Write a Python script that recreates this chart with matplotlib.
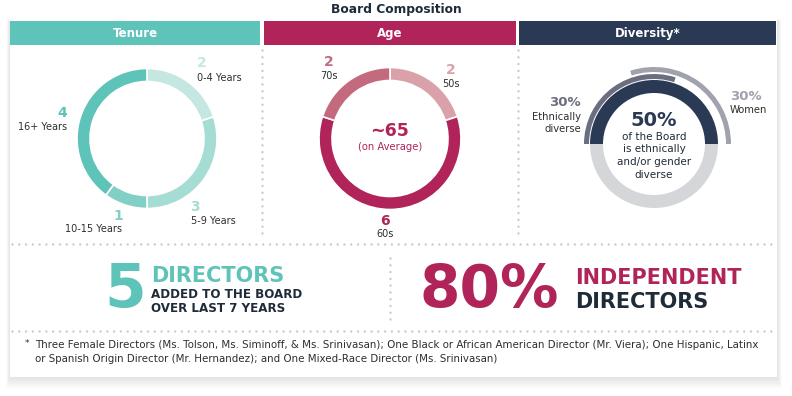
import matplotlib
matplotlib.use("Agg")
import matplotlib.pyplot as plt
from matplotlib.patches import Rectangle

plt.rcParams['font.family'] = ['DejaVu Sans']

# data
title = "Board Composition"
panels = ["Tenure", "Age", "Diversity*"]

tenure_labels = ["0-4 Years", "5-9 Years", "10-15 Years", "16+ Years"]
tenure_values = [2, 3, 1, 4]

age_labels = ["50s", "60s", "70s"]
age_values = [2, 6, 2]
age_average = "~65"

diverse_pct = 50
ethnic_pct = 30
women_pct = 30

new_directors = 5
new_years = 7
independent_pct = 80

footnote = ["Three Female Directors (Ms. Tolson, Ms. Siminoff, & Ms. Srinivasan); One Black or African American Director (Mr. Viera); One Hispanic, Latinx",
            "or Spanish Origin Director (Mr. Hernandez); and One Mixed-Race Director (Ms. Srinivasan)"]

# colours
teal = "#5ec3b8"
crimson = "#b0245a"
navy = "#2a3a55"
dark = "#1e2b38"
text_gray = "#2e2e2e"
tenure_colors = ["#c4e7e1", "#a5dcd4", "#82cfc5", "#5ec3b8"]
age_colors = ["#dba1ab", crimson, "#c46a7e"]
ethnic_color = "#6b6e7f"
women_color = "#a0a2ae"
bottom_gray = "#d5d6da"
dot_color = "#cccccc"

W, H = 792, 396
fig = plt.figure(figsize=(W / 100, H / 100), dpi=100)
ax = fig.add_axes([0, 0, 1, 1])
ax.set_xlim(0, W)
ax.set_ylim(H, 0)
ax.axis("off")

# card with soft shadow
for i in range(10):
    ax.add_patch(Rectangle((10 - i * 0.4, 18 + i * 0.3), 767 + i * 0.9, 359 + i * 1.0,
                           facecolor="#000000", alpha=0.012, lw=0, zorder=0))
ax.add_patch(Rectangle((10, 18), 767, 359, facecolor="white", lw=0, zorder=1))

ax.text(W / 2, 9, title, ha="center", va="center", fontsize=8.8,
        fontweight="bold", color=dark, zorder=3)

# header bars
bars = [(10, 260, teal), (264, 516, crimson), (519, 776, navy)]
for (x0, x1, c), name in zip(bars, panels):
    ax.add_patch(Rectangle((x0, 21), x1 - x0, 24, facecolor=c, lw=0, zorder=2))
    ax.text((x0 + x1) / 2, 33.5, name, ha="center", va="center", fontsize=8.5,
            fontweight="bold", color="white", zorder=3)


def dotted(xs, ys):
    ax.plot(xs, ys, color=dot_color, lw=1.8, linestyle=(0, (0.01, 2.7)),
            dash_capstyle="round", zorder=2)


dotted([262, 262], [50, 238])
dotted([517.5, 517.5], [50, 238])
dotted([12, 776], [243.5, 243.5])
dotted([390, 390], [258, 325])
dotted([12, 776], [330.5, 330.5])


def donut_axes(cx, cy, half=90):
    return fig.add_axes([(cx - half) / W, 1 - (cy + half) / H, 2 * half / W, 2 * half / H])


def finish(a, half=90):
    a.set_xlim(-half, half)
    a.set_ylim(-half, half)
    a.set_aspect("equal")
    a.axis("off")


# tenure donut
ta = donut_axes(147, 138.5)
ta.pie(tenure_values, colors=tenure_colors, startangle=90, counterclock=False,
       radius=70, wedgeprops=dict(width=13, edgecolor="white", linewidth=1.2))
finish(ta)

# (value x, value y, label x, label y, label align)
tenure_pos = [(202, 63, 197, 78, "left"), (195, 207, 191, 221, "left"),
              (118, 216, 122, 229, "right"), (62, 113, 67, 127, "right")]
for (vx, vy, lx, ly, ha), v, lab, c in zip(tenure_pos, tenure_values, tenure_labels, tenure_colors):
    ax.text(vx, vy, str(v), ha="center", va="center", fontsize=10,
            fontweight="bold", color=c, zorder=3)
    ax.text(lx, ly, lab, ha=ha, va="center", fontsize=7, color=text_gray, zorder=3)

# age donut
aa = donut_axes(390, 138.5)
aa.pie(age_values, colors=age_colors, startangle=90, counterclock=False,
       radius=71, wedgeprops=dict(width=13, edgecolor="white", linewidth=1.2))
finish(aa)

age_pos = [(451, 70, 84), (385, 221, 234), (329, 62, 76)]
for (x, yv, yl), v, lab, c in zip(age_pos, age_values, age_labels, age_colors):
    ax.text(x, yv, str(v), ha="center", va="center", fontsize=10,
            fontweight="bold", color=c, zorder=3)
    ax.text(x, yl, lab, ha="center", va="center", fontsize=7, color=text_gray, zorder=3)
ax.text(390, 131, age_average, ha="center", va="center", fontsize=12.5,
        fontweight="bold", color=crimson, zorder=3)
ax.text(390, 147, "(on Average)", ha="center", va="center", fontsize=7.2,
        color=crimson, zorder=3)

# diversity
da = donut_axes(654, 144)
da.pie([diverse_pct, 100 - diverse_pct], colors=[navy, bottom_gray], startangle=180,
       counterclock=False, radius=64, wedgeprops=dict(width=13, linewidth=0))
da.pie([ethnic_pct, 100 - ethnic_pct], colors=[ethnic_color, "none"], startangle=180,
       counterclock=False, radius=70, wedgeprops=dict(width=5, linewidth=0))
da.pie([women_pct, 100 - women_pct], colors=[women_color, "none"],
       startangle=women_pct * 3.6, counterclock=False, radius=77,
       wedgeprops=dict(width=5, linewidth=0))
finish(da)

ax.text(581, 103, f"{ethnic_pct}%", ha="right", va="center", fontsize=9.5,
        fontweight="bold", color=ethnic_color, zorder=3)
ax.text(581, 117, "Ethnically", ha="right", va="center", fontsize=7.2, color=text_gray, zorder=3)
ax.text(581, 129, "diverse", ha="right", va="center", fontsize=7.2, color=text_gray, zorder=3)
ax.text(730, 97, f"{women_pct}%", ha="left", va="center", fontsize=9.5,
        fontweight="bold", color=women_color, zorder=3)
ax.text(730, 110, "Women", ha="left", va="center", fontsize=7.2, color=text_gray, zorder=3)

ax.text(654, 120, f"{diverse_pct}%", ha="center", va="center", fontsize=14,
        fontweight="bold", color=navy, zorder=3)
for y, s in zip([137, 149.5, 162, 174.5],
                ["of the Board", "is ethnically", "and/or gender", "diverse"]):
    ax.text(654, y, s, ha="center", va="center", fontsize=7.5, color=dark, zorder=3)

# bottom stats
ax.text(125, 290.5, str(new_directors), ha="center", va="center", fontsize=43,
        fontweight="bold", color=teal, zorder=3)
ax.text(151, 276.5, "DIRECTORS", ha="left", va="center", fontsize=15,
        fontweight="bold", color=teal, zorder=3)
ax.text(151, 294, "ADDED TO THE BOARD", ha="left", va="center", fontsize=8.6,
        fontweight="bold", color=dark, zorder=3)
ax.text(151, 309, f"OVER LAST {new_years} YEARS", ha="left", va="center", fontsize=8.6,
        fontweight="bold", color=dark, zorder=3)

ax.text(489, 290.5, f"{independent_pct}%", ha="center", va="center", fontsize=42,
        fontweight="bold", color=crimson, zorder=3)
ax.text(575, 277.5, "INDEPENDENT", ha="left", va="center", fontsize=15,
        fontweight="bold", color=crimson, zorder=3)
ax.text(575, 302.5, "DIRECTORS", ha="left", va="center", fontsize=15,
        fontweight="bold", color=dark, zorder=3)

# footnote
ax.text(27, 343.5, "*", ha="center", va="center", fontsize=6.5, color=text_gray, zorder=3)
ax.text(35, 345.5, footnote[0], ha="left", va="center", fontsize=7.4, color=text_gray, zorder=3)
ax.text(35, 358.5, footnote[1], ha="left", va="center", fontsize=7.4, color=text_gray, zorder=3)

fig.savefig("out.png", dpi=100)
